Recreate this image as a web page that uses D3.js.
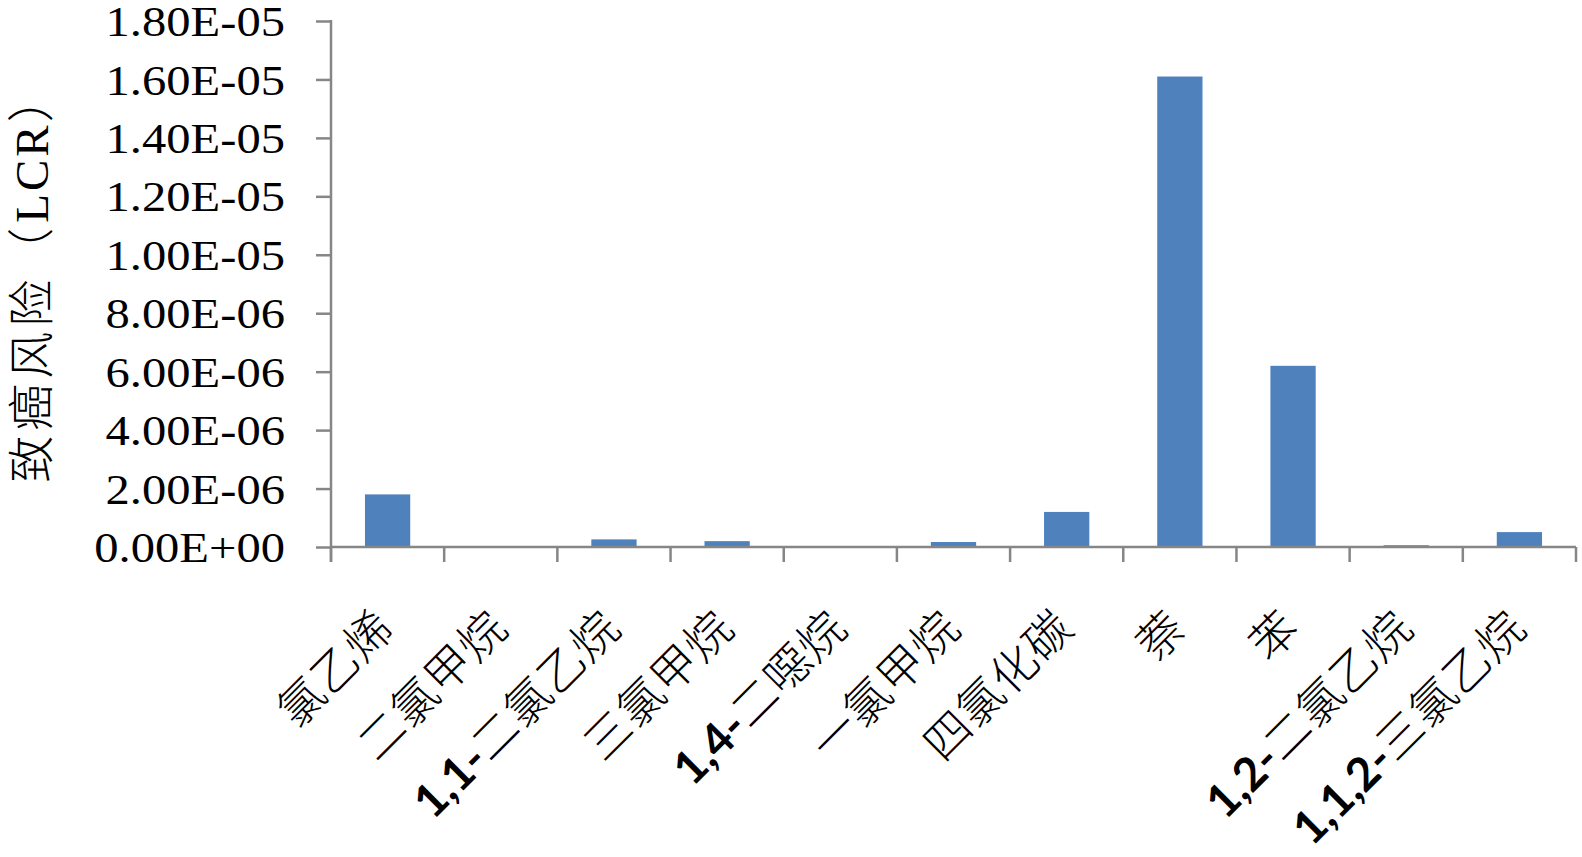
<!DOCTYPE html>
<html><head><meta charset="utf-8">
<script src="https://cdn.jsdelivr.net/npm/d3@7"></script>
<style>
html,body{margin:0;padding:0;background:#fff;}
svg{display:block;}
text{text-spacing-trim:space-all;}
</style></head>
<body>
<svg id="chart" width="1582" height="857"></svg>
<script>
const categories = ["氯乙烯","二氯甲烷","1,1-二氯乙烷","三氯甲烷","1,4-二噁烷","一氯甲烷","四氯化碳","萘","苯","1,2-二氯乙烷","1,1,2-三氯乙烷"];
const values = [1.80e-6, 0, 2.6e-7, 2.0e-7, 0, 1.7e-7, 1.2e-6, 1.61e-5, 6.2e-6, 6e-8, 5.1e-7];
const yTickValues = [0, 2e-6, 4e-6, 6e-6, 8e-6, 1e-5, 1.2e-5, 1.4e-5, 1.6e-5, 1.8e-5];
const yTickLabels = ["0.00E+00","2.00E-06","4.00E-06","6.00E-06","8.00E-06","1.00E-05","1.20E-05","1.40E-05","1.60E-05","1.80E-05"];
const yTitle = ["致癌风险（", "LCR", "）"];

(function () {
const svg = d3.select("#chart");
const pLeft = 331, pRight = 1576, pTop = 21, pBottom = 547;
const axisColor = "#868686";
const serif = "'Liberation Serif','Times New Roman',serif";
const cjk = "'Noto Sans CJK SC',sans-serif";
const latin = "Lato,'Open Sans',sans-serif";

const x = d3.scaleBand().domain(categories).range([pLeft, pRight]).paddingInner(0).paddingOuter(0);
const y = d3.scaleLinear().domain([0, 1.8e-5]).range([pBottom, pTop]);
const barW = x.bandwidth() / 2.5;

// bars
svg.append("g").selectAll("rect").data(values).join("rect")
  .attr("x", (d, i) => x(categories[i]) + (x.bandwidth() - barW) / 2)
  .attr("y", d => y(d))
  .attr("width", barW)
  .attr("height", d => y(0) - y(d))
  .attr("fill", "#4F81BD");

// y axis
const yAxis = d3.axisLeft(y).tickValues(yTickValues)
  .tickFormat((d, i) => yTickLabels[i]).tickSize(15).tickSizeOuter(0).tickPadding(31);
const gy = svg.append("g").attr("transform", `translate(${pLeft},0)`).call(yAxis);
gy.select(".domain").remove();
gy.selectAll(".tick line").attr("stroke", axisColor).attr("stroke-width", 2.5);
gy.selectAll(".tick text").attr("font-family", serif).attr("font-size", 43).attr("fill", "#000")
  .attr("dy", "0.34em").attr("x", 0).attr("transform", "translate(-46,0) scale(1.13,1)");
svg.append("line").attr("x1", pLeft).attr("x2", pLeft).attr("y1", y(1.8e-5) - 1).attr("y2", pBottom + 15)
  .attr("stroke", axisColor).attr("stroke-width", 2.5);

// x axis
const gx = svg.append("g").attr("transform", `translate(0,${pBottom})`);
gx.append("line").attr("x1", pLeft).attr("x2", pRight).attr("y1", 0).attr("y2", 0)
  .attr("stroke", axisColor).attr("stroke-width", 2.5);
const tickXs = categories.map(c => x(c)).concat([pRight]);
gx.selectAll("line.tk").data(tickXs).join("line").attr("class", "tk")
  .attr("x1", d => d).attr("x2", d => d).attr("y1", 0).attr("y2", 15)
  .attr("stroke", axisColor).attr("stroke-width", 2.5);

// x labels
function segments(s) {
  const out = []; let cur = "", curLatin = null;
  for (const ch of s) {
    const isL = /[0-9,\-]/.test(ch);
    if (curLatin === null || isL === curLatin) { cur += ch; curLatin = isL; }
    else { out.push([cur, curLatin]); cur = ch; curLatin = isL; }
  }
  if (cur) out.push([cur, curLatin]);
  return out;
}
const lbl = svg.append("g").selectAll("text").data(categories).join("text")
  .attr("transform", d => `translate(${x(d) + x.bandwidth() / 2 - 2},${pBottom + 72}) rotate(-45)`)
  .attr("text-anchor", "end").attr("dy", "0.35em").attr("font-size", 46).attr("fill", "#000");
lbl.each(function(d) {
  const t = d3.select(this);
  segments(d).forEach(([s, isL]) => {
    t.append("tspan").text(s).attr("font-family", isL ? latin : cjk)
      .attr("font-weight", isL ? 700 : 300).attr("letter-spacing", isL ? 0 : 1);
  });
});

// y title
const yt = svg.append("text").attr("transform", "translate(32,279) rotate(-90)")
  .attr("text-anchor", "middle").attr("dy", "0.35em").attr("font-size", 47).attr("fill", "#000");
yt.append("tspan").text(yTitle[0]).attr("font-family", cjk).attr("font-weight", 300).attr("letter-spacing", 5);
yt.append("tspan").text(yTitle[1]).attr("font-family", serif).attr("letter-spacing", 3);
yt.append("tspan").text(yTitle[2]).attr("font-family", cjk).attr("font-weight", 300);
})();
</script>
</body></html>
